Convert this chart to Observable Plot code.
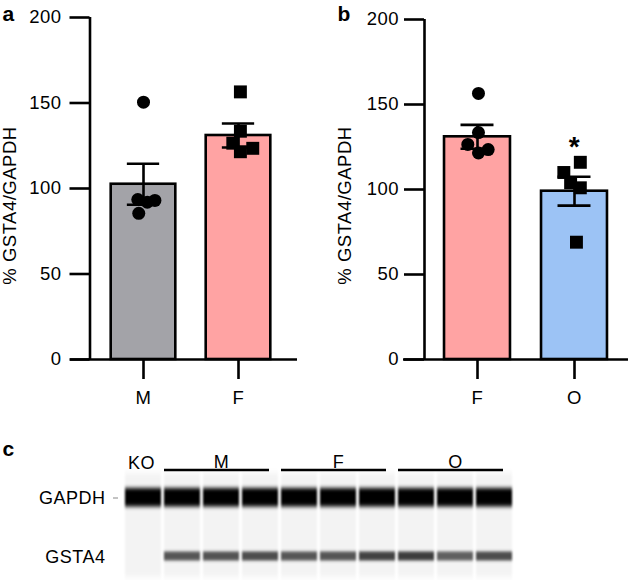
<!DOCTYPE html>
<html>
<head>
<meta charset="utf-8">
<script src="https://cdn.jsdelivr.net/npm/d3@7"></script>
<script src="https://cdn.jsdelivr.net/npm/@observablehq/plot@0.6"></script>
<style>
  html, body { margin: 0; padding: 0; background: #fff; }
  #fig { position: relative; width: 633px; height: 580px; overflow: hidden; background: #fff; }
  #fig > svg { position: absolute; }
</style>
</head>
<body>
<div id="fig"></div>
<script>
// ---------------- data ----------------
const yTicks = [0, 50, 100, 150, 200];
const yLabel = "% GSTA4/GAPDH";

// panel a
const aCategories = ["M", "F"];
const aMeans = [102.5, 131];
const aSems = [12, 7];
const aFills = ["#a3a3a8", "#ffa3a3"];
const aSymbols = ["circle", "square"];

// panel b
const bCategories = ["F", "O"];
const bMeans = [131, 99];
const bSems = [7, 8.5];
const bFills = ["#ffa3a3", "#9cc3f5"];
const bSymbols = ["circle", "square"];
const bSignificance = ["", "*"];

// individual samples
const mValues = [150.5, 93.5, 85.5, 92, 93];
const mJitter = [0, -0.06, -0.05, 0.04, 0.12];
const fValues = [156.5, 133.5, 126.5, 121.5, 123.5];
const fJitterA = [0.02, 0.02, -0.06, 0.02, 0.15];
const fJitterB = [0.01, 0.01, -0.1, 0.01, 0.11];
const oValues = [116, 110, 104, 101, 69];
const oJitter = [0.06, -0.11, -0.04, 0.06, 0.02];

// panel c (capillary western)
const lanes = ["KO", "M1", "M2", "M3", "F1", "F2", "F3", "O1", "O2", "O3"];
const gapdhSignal = [1, 1, 1, 1, 1, 0.98, 1, 1, 1, 1];
const gsta4Signal = [0, 0.66, 0.68, 0.70, 0.66, 0.67, 0.74, 0.76, 0.62, 0.70];
const proteins = ["GAPDH", "GSTA4"];
const groupNames = ["M", "F", "O"];
const groupFirst = ["M1", "F1", "O1"];
const groupMiddle = ["M2", "F2", "O2"];
const groupLast = ["M3", "F3", "O3"];
const koLabel = ["KO"];

// ---------------- drawing ----------------
const FONT = "'Liberation Sans', Arial, Helvetica, sans-serif";
const fig = document.getElementById("fig");

function barPanel(o) {
  const H = 420, base = 359;
  const bars = o.cats.map((c, i) => ({i, c, mean: o.means[i], sem: o.sems[i], fill: o.fills[i], sig: o.sig ? o.sig[i] : "", top: d3.max(o.values[i])}));
  const pts = [];
  o.values.forEach((vals, i) => vals.forEach((v, k) => pts.push({x: i + o.jitter[i][k], v, symbol: o.symbols[i]})));
  const u = o.tick1 - o.tick0;
  const domain = [-(o.tick0 - o.axisX) / u, 1 + (o.lineEnd - o.tick1) / u];
  const hw = 0.34, cap = 0.17, sw = 2.6;
  const svg = Plot.plot({
    width: o.width, height: H,
    marginLeft: o.axisX - o.left, marginRight: o.left + o.width - o.lineEnd,
    marginTop: o.top, marginBottom: H - base,
    x: {domain, label: null},
    y: {domain: [0, 200], label: null},
    style: {fontFamily: FONT, fontSize: "18.5px", letterSpacing: "0.5px", overflow: "visible", background: "transparent", color: "black"},
    marks: [
      Plot.rectY(bars, {x1: d => d.i - hw, x2: d => d.i + hw, y1: 0, y2: "mean", fill: "fill", stroke: "black", strokeWidth: sw}),
      Plot.ruleX(bars, {x: "i", y1: d => d.mean - d.sem, y2: d => d.mean + d.sem, stroke: "black", strokeWidth: sw}),
      Plot.ruleY(bars, {y: d => d.mean + d.sem, x1: d => d.i - cap, x2: d => d.i + cap, stroke: "black", strokeWidth: sw}),
      Plot.ruleY(bars, {y: d => d.mean - d.sem, x1: d => d.i - cap, x2: d => d.i + cap, stroke: "black", strokeWidth: sw}),
      Plot.dot(pts.filter(d => d.symbol === "circle"), {x: "x", y: "v", r: 6.5, fill: "black", symbol: "circle"}),
      Plot.dot(pts.filter(d => d.symbol === "square"), {x: "x", y: "v", r: 7.3, fill: "black", symbol: "square"}),
      Plot.text(bars.filter(d => d.sig), {x: "i", y: "top", text: "sig", dy: -15, fontSize: 28, fontWeight: "bold"}),
      Plot.ruleX([domain[0]], {stroke: "black", strokeWidth: sw}),
      Plot.ruleY([0], {insetLeft: -(o.axisX - o.lineStart), stroke: "black", strokeWidth: sw}),
      Plot.axisY({ticks: yTicks, tickSize: 20, tickPadding: o.yPad, strokeWidth: sw, fontSize: 18.5, label: null}),
      Plot.axisX({ticks: [0, 1], tickFormat: i => o.cats[i], tickSize: 20, tickPadding: 11, strokeWidth: sw, fontSize: 18.5, label: null}),
      Plot.text([yLabel], {text: d => d, frameAnchor: "left", textAnchor: "middle", lineAnchor: "middle", rotate: -90, dx: o.labelX - o.axisX, dy: 205 - (o.top + base) / 2, fontSize: 18.5}),
      Plot.text([o.letter], {text: d => d, frameAnchor: "top-left", textAnchor: "start", lineAnchor: "middle", dx: o.letterX - o.axisX, dy: 13.6 - o.top, fontSize: 21, fontWeight: "bold", letterSpacing: 0})
    ]
  });
  svg.style.left = o.left + "px";
  svg.style.top = "0px";
  return svg;
}

fig.appendChild(barPanel({
  cats: aCategories, means: aMeans, sems: aSems, fills: aFills, symbols: aSymbols,
  values: [mValues, fValues], jitter: [mJitter, fJitterA],
  left: 0, width: 310, axisX: 89.5, lineStart: 70, lineEnd: 297, tick0: 143, tick1: 238, top: 17,
  yPad: 8.5, labelX: 10, letter: "a", letterX: 2
}));
fig.appendChild(barPanel({
  cats: bCategories, means: bMeans, sems: bSems, fills: bFills, symbols: bSymbols, sig: bSignificance,
  values: [fValues, oValues], jitter: [fJitterB, oJitter],
  left: 310, width: 323, axisX: 424, lineStart: 403, lineEnd: 628, tick0: 477, tick1: 574, top: 19,
  yPad: 5.5, labelX: 345, letter: "b", letterX: 337
}));

// panel c
function gray(s) { const v = Math.round(255 * (1 - s)); return `rgb(${v},${v},${v})`; }
const laneData = lanes.map((lane, i) => ({lane, gapdh: gapdhSignal[i], gsta4: gsta4Signal[i]}));
const groups = groupNames.map((g, i) => ({g, first: groupFirst[i], mid: groupMiddle[i], last: groupLast[i]}));

const blot = Plot.plot({
  width: 633, height: 160,
  marginLeft: 118, marginRight: 113, marginTop: 53, marginBottom: 3,
  x: {type: "band", domain: lanes, padding: 0.075, label: null, axis: null},
  y: {type: "band", domain: proteins, range: [45, 169], label: null},
  style: {fontFamily: FONT, fontSize: "18px", letterSpacing: "0.5px", overflow: "visible", background: "transparent", color: "black"},
  marks: [
    Plot.cell(laneData, {x: "lane", fill: "#f3f3f3"}),
    Plot.cell(laneData, {x: "lane", y: () => "GAPDH", fill: d => gray(d.gapdh), insetTop: 17, insetBottom: 17.5}),
    Plot.cell(laneData.filter(d => d.gsta4 > 0), {x: "lane", y: () => "GSTA4", fill: d => gray(d.gsta4), insetTop: 21.5, insetBottom: 22.5}),
    Plot.rect(groups, {x1: "first", x2: "last", fill: "black", insetTop: -4.25, insetBottom: 105.75, insetRight: 9}),
    Plot.text(groups, {x: "mid", text: "g", frameAnchor: "top", dy: -18, fontSize: 18}),
    Plot.text(koLabel, {x: d => d, text: d => d, frameAnchor: "top", dy: -17, dx: -2, fontSize: 18}),
    Plot.axisY({anchor: "left", tickSize: 0, tickPadding: 13, fontSize: 18, label: null}),
    Plot.axisY(["GAPDH"], {anchor: "left", tickSize: 5, text: null, stroke: "#888", strokeWidth: 1, label: null}),
    Plot.text(["c"], {text: d => d, frameAnchor: "top-left", textAnchor: "start", lineAnchor: "middle", dx: 2 - 118, dy: 28.6 - 53, fontSize: 21, fontWeight: "bold", letterSpacing: 0})
  ]
});
blot.style.left = "0px";
blot.style.top = "420px";
fig.appendChild(blot);

// soft band edges, as in the capillary image
const sel = d3.select(blot);
const markGroups = sel.selectAll(":scope > g").nodes();
const defs = sel.insert("defs", ":first-child");
function addBlur(id, sd) {
  defs.append("filter").attr("id", id)
    .attr("x", "-20%").attr("y", "-60%").attr("width", "140%").attr("height", "220%")
    .append("feGaussianBlur").attr("stdDeviation", sd);
}
addBlur("blurBg", "0.8 3");
addBlur("blurG", "0.9 2.2");
addBlur("blurS", "0.9 1.8");
d3.select(markGroups[0]).attr("filter", "url(#blurBg)");
d3.select(markGroups[1]).attr("filter", "url(#blurG)");
d3.select(markGroups[2]).attr("filter", "url(#blurS)");
</script>
</body>
</html>
